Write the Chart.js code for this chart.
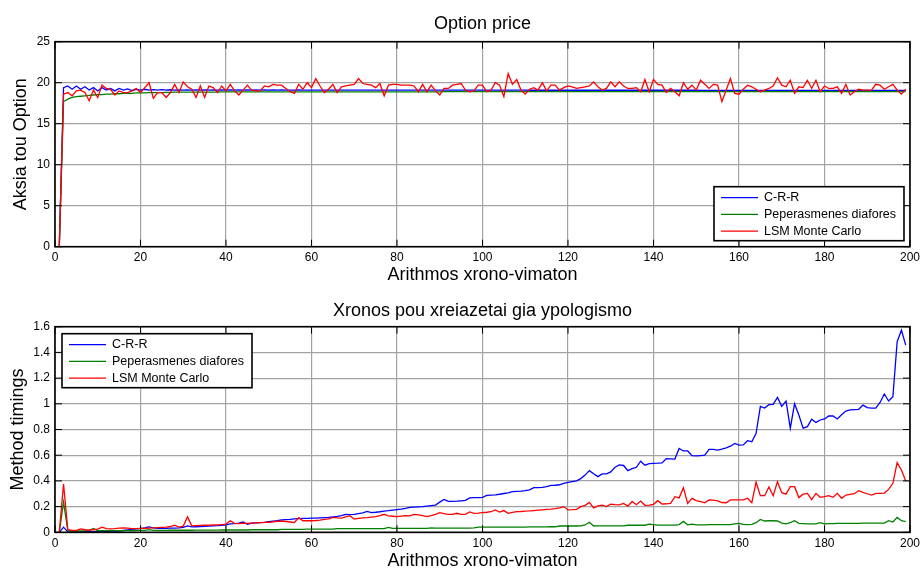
<!DOCTYPE html>
<html lang="en">
  <head>
    <meta charset="UTF-8" />
    <title>Option price</title>
    <script src="https://cdn.jsdelivr.net/npm/chart.js@4"></script>
    <style>
      body { margin: 0; background: #fff; overflow: hidden; }
      .plot { position: absolute; left: 0; width: 924px; height: 285px; }
    </style>
  </head>

  <body>
    <div class="plot" style="top: 0"><canvas id="priceChart" width="924" height="285"></canvas></div>
    <div class="plot" style="top: 285px"><canvas id="timeChart" width="924" height="285"></canvas></div>

    <script>
      // option value per number of time steps (1..199)
      const crrPrice = [
        0, 19.4, 19.6, 19.2, 19.6, 19.2, 19.5, 19.1, 19.4, 19.0,
        19.4, 19.1, 19.3, 19.0, 19.3, 19.1, 19.25, 19.05, 19.2, 19.1,
        19.2, 19.1, 19.15, 19.1, 19.15, 19.1, 19.14, 19.1, 19.13, 19.1,
        19.12, 19.1, 19.12, 19.1, 19.12, 19.1, 19.12, 19.1, 19.12, 19.1,
        19.12, 19.1, 19.11, 19.1, 19.11, 19.1, 19.11, 19.1, 19.11, 19.1,
        19.11, 19.1, 19.11, 19.1, 19.1, 19.1, 19.11, 19.1, 19.1, 19.1,
        19.1, 19.1, 19.1, 19.1, 19.1, 19.1, 19.1, 19.1, 19.1, 19.1,
        19.1, 19.1, 19.1, 19.1, 19.1, 19.1, 19.1, 19.1, 19.1, 19.1,
        19.1, 19.1, 19.1, 19.1, 19.1, 19.1, 19.1, 19.1, 19.1, 19.1,
        19.09, 19.09, 19.09, 19.09, 19.09, 19.09, 19.09, 19.09, 19.09, 19.09,
        19.09, 19.09, 19.09, 19.09, 19.09, 19.09, 19.09, 19.09, 19.09, 19.09,
        19.08, 19.08, 19.08, 19.08, 19.08, 19.08, 19.08, 19.08, 19.08, 19.08,
        19.08, 19.08, 19.08, 19.08, 19.08, 19.08, 19.08, 19.08, 19.08, 19.08,
        19.08, 19.08, 19.08, 19.08, 19.08, 19.08, 19.08, 19.08, 19.08, 19.08,
        19.08, 19.08, 19.08, 19.08, 19.08, 19.08, 19.08, 19.08, 19.08, 19.08,
        19.07, 19.07, 19.07, 19.07, 19.07, 19.07, 19.07, 19.07, 19.07, 19.07,
        19.07, 19.07, 19.07, 19.07, 19.07, 19.07, 19.07, 19.07, 19.07, 19.07,
        19.07, 19.07, 19.07, 19.07, 19.07, 19.07, 19.07, 19.07, 19.07, 19.07,
        19.07, 19.07, 19.07, 19.07, 19.07, 19.07, 19.07, 19.07, 19.07, 19.07,
        19.07, 19.07, 19.07, 19.07, 19.07, 19.07, 19.07, 19.07, 19.07
      ];
      const fdPrice = [
        0, 17.7, 18.0, 18.2, 18.3, 18.35, 18.4, 18.45, 18.5, 18.55,
        18.55, 18.6, 18.6, 18.65, 18.65, 18.7, 18.7, 18.7, 18.75, 18.75,
        18.75, 18.78, 18.8, 18.8, 18.8, 18.82, 18.82, 18.84, 18.84, 18.85,
        18.85, 18.85, 18.85, 18.86, 18.86, 18.86, 18.86, 18.86, 18.87, 18.87,
        18.87, 18.87, 18.87, 18.87, 18.87, 18.88, 18.88, 18.88, 18.88, 18.88,
        18.88, 18.88, 18.88, 18.88, 18.88, 18.88, 18.88, 18.88, 18.88, 18.88,
        18.89, 18.89, 18.89, 18.89, 18.89, 18.89, 18.89, 18.89, 18.89, 18.89,
        18.89, 18.89, 18.89, 18.89, 18.89, 18.89, 18.89, 18.89, 18.89, 18.89,
        18.89, 18.89, 18.89, 18.89, 18.89, 18.89, 18.89, 18.89, 18.89, 18.89,
        18.9, 18.9, 18.9, 18.9, 18.9, 18.9, 18.9, 18.9, 18.9, 18.9,
        18.9, 18.9, 18.9, 18.9, 18.9, 18.9, 18.9, 18.9, 18.9, 18.9,
        18.9, 18.9, 18.9, 18.9, 18.9, 18.9, 18.9, 18.9, 18.9, 18.9,
        18.9, 18.9, 18.9, 18.9, 18.9, 18.9, 18.9, 18.9, 18.9, 18.9,
        18.9, 18.9, 18.9, 18.9, 18.9, 18.9, 18.9, 18.9, 18.9, 18.9,
        18.9, 18.9, 18.9, 18.9, 18.9, 18.9, 18.9, 18.9, 18.9, 18.9,
        18.9, 18.9, 18.9, 18.9, 18.9, 18.9, 18.9, 18.9, 18.9, 18.9,
        18.9, 18.9, 18.9, 18.9, 18.9, 18.9, 18.9, 18.9, 18.9, 18.9,
        18.9, 18.9, 18.9, 18.9, 18.9, 18.9, 18.9, 18.9, 18.9, 18.9,
        18.9, 18.9, 18.9, 18.9, 18.9, 18.9, 18.9, 18.9, 18.9, 18.9,
        18.9, 18.9, 18.9, 18.9, 18.9, 18.9, 18.9, 18.9, 18.9
      ];
      const lsmPrice = [
        0, 18.6, 18.8, 18.4, 19.0, 19.1, 18.8, 17.8, 19.1, 18.2,
        19.7, 19.3, 19.2, 18.5, 19.0, 18.8, 18.8, 19.0, 19.3, 18.8,
        19.4, 20.0, 18.1, 18.8, 18.8, 18.2, 18.8, 19.8, 18.8, 20.1,
        19.5, 19.2, 18.2, 19.6, 18.2, 19.6, 19.4, 18.8, 19.6, 19.0,
        19.8, 19.0, 18.5, 19.1, 19.7, 19.1, 19.0, 19.0, 19.6, 19.5,
        19.8, 19.7, 19.7, 19.3, 18.9, 18.7, 19.8, 19.2, 20.0, 19.4,
        20.5, 19.6, 18.8, 19.2, 19.8, 18.8, 19.5, 19.6, 19.7, 19.8,
        20.5, 19.9, 19.8, 19.7, 19.4, 19.9, 18.4, 19.7, 19.8, 19.8,
        19.7, 19.7, 19.7, 19.6, 18.9, 19.8, 18.9, 19.7, 19.0, 18.5,
        19.3, 19.3, 19.7, 19.8, 19.9, 19.1, 18.9, 19.0, 19.7, 19.7,
        18.9, 19.1, 20.0, 19.7, 18.3, 21.1, 19.8, 20.4, 19.1, 18.6,
        19.2, 19.4, 19.1, 20.0, 19.0, 19.7, 19.7, 19.1, 19.4, 19.6,
        19.5, 19.3, 19.4, 19.5, 19.6, 20.1, 19.5, 19.1, 19.3, 20.1,
        19.5, 20.1, 19.6, 19.3, 19.3, 19.4, 18.9, 20.4, 18.9, 20.4,
        19.8, 19.7, 18.8, 19.3, 18.9, 18.4, 20.0, 19.2, 19.7, 19.1,
        20.3, 19.8, 19.3, 19.8, 19.7, 17.7, 19.1, 20.5, 18.7, 18.6,
        19.2, 19.7, 19.5, 19.2, 18.9, 19.1, 19.3, 19.6, 20.6, 19.7,
        19.5, 20.3, 18.7, 19.5, 19.4, 20.3, 19.3, 20.3, 18.9, 19.6,
        19.3, 19.3, 19.5, 18.7, 19.8, 18.5, 18.9, 19.2, 19.1, 19.1,
        19.1, 19.8, 19.7, 19.2, 19.5, 19.8, 19.1, 18.6, 19.2
      ];

      // computation time (s) per number of time steps
      const crrTime = [
        0, 0.04, 0.003, 0.003, 0.004, 0.004, 0.005, 0.005, 0.006, 0.006,
        0.007, 0.008, 0.008, 0.009, 0.01, 0.014, 0.018, 0.022, 0.026, 0.03,
        0.034, 0.042, 0.034, 0.031, 0.03, 0.031, 0.032, 0.032, 0.034, 0.038,
        0.05, 0.042, 0.043, 0.044, 0.046, 0.048, 0.05, 0.052, 0.055, 0.058,
        0.066, 0.068, 0.072, 0.08, 0.062, 0.072, 0.074, 0.076, 0.078, 0.082,
        0.086, 0.09, 0.096, 0.098, 0.1, 0.104, 0.106, 0.108, 0.108, 0.11,
        0.11, 0.112, 0.114, 0.116, 0.12, 0.124, 0.13, 0.14, 0.138, 0.14,
        0.146, 0.152, 0.162, 0.153, 0.156, 0.16, 0.165, 0.168, 0.172, 0.176,
        0.18, 0.186, 0.194, 0.196, 0.198, 0.2, 0.204, 0.208, 0.212, 0.235,
        0.256, 0.24, 0.24, 0.242, 0.245, 0.248, 0.268, 0.27, 0.27, 0.272,
        0.288, 0.29, 0.292, 0.296, 0.302, 0.306, 0.316, 0.318, 0.32, 0.324,
        0.33, 0.347, 0.348, 0.35, 0.356, 0.365, 0.366, 0.37, 0.38, 0.389,
        0.395, 0.4, 0.418, 0.445, 0.48, 0.455, 0.433, 0.454, 0.455, 0.47,
        0.506, 0.524, 0.52, 0.48, 0.495, 0.506, 0.553, 0.522, 0.535, 0.537,
        0.538, 0.54, 0.573, 0.572, 0.57, 0.653, 0.633, 0.633, 0.597, 0.594,
        0.597, 0.6, 0.645, 0.645, 0.64, 0.648, 0.657, 0.67, 0.692, 0.679,
        0.68, 0.713, 0.705, 0.77, 0.98, 0.967, 0.993, 0.995, 1.05, 0.98,
        1.022, 0.81, 1.0, 0.913, 0.81, 0.822, 0.88, 0.855, 0.874, 0.882,
        0.905, 0.905, 0.882, 0.915, 0.944, 0.952, 0.955, 0.957, 0.99, 0.97,
        0.967, 0.967, 1.01, 1.076, 1.022, 1.055, 1.483, 1.574, 1.457
      ];
      const fdTime = [
        0, 0.235, 0.012, 0.01, 0.01, 0.01, 0.012, 0.015, 0.03, 0.012,
        0.012, 0.012, 0.012, 0.013, 0.013, 0.013, 0.013, 0.014, 0.014, 0.015,
        0.015, 0.02, 0.015, 0.015, 0.015, 0.015, 0.016, 0.016, 0.016, 0.016,
        0.016, 0.016, 0.017, 0.017, 0.017, 0.017, 0.017, 0.017, 0.018, 0.018,
        0.018, 0.018, 0.018, 0.018, 0.018, 0.02, 0.02, 0.02, 0.02, 0.02,
        0.02, 0.02, 0.022, 0.022, 0.022, 0.023, 0.023, 0.023, 0.024, 0.024,
        0.024, 0.024, 0.025, 0.025, 0.025, 0.028, 0.028, 0.028, 0.028, 0.028,
        0.028, 0.028, 0.028, 0.028, 0.028, 0.028, 0.028, 0.038, 0.03, 0.03,
        0.03, 0.03, 0.03, 0.03, 0.03, 0.03, 0.03, 0.035, 0.033, 0.033,
        0.033, 0.033, 0.033, 0.033, 0.033, 0.033, 0.033, 0.034, 0.04, 0.04,
        0.04, 0.04, 0.04, 0.04, 0.041, 0.041, 0.041, 0.041, 0.041, 0.041,
        0.042, 0.042, 0.042, 0.042, 0.042, 0.043, 0.043, 0.049, 0.049, 0.049,
        0.049, 0.049, 0.05, 0.057, 0.078, 0.049, 0.05, 0.05, 0.05, 0.05,
        0.05, 0.05, 0.05, 0.055, 0.055, 0.055, 0.055, 0.055, 0.064, 0.06,
        0.056, 0.056, 0.056, 0.056, 0.056, 0.06, 0.085, 0.058, 0.064, 0.058,
        0.058, 0.058, 0.059, 0.059, 0.059, 0.06, 0.06, 0.06, 0.065, 0.07,
        0.062, 0.06, 0.062, 0.075, 0.1, 0.088, 0.09, 0.09, 0.088, 0.072,
        0.065, 0.075, 0.09, 0.07, 0.068, 0.066, 0.065, 0.066, 0.075, 0.066,
        0.068, 0.068, 0.069, 0.069, 0.07, 0.07, 0.07, 0.07, 0.071, 0.071,
        0.071, 0.072, 0.072, 0.072, 0.09, 0.08, 0.116, 0.09, 0.083
      ];
      const lsmTime = [
        0, 0.375, 0.02, 0.014, 0.015, 0.026, 0.02, 0.018, 0.02, 0.025,
        0.04, 0.028, 0.027, 0.029, 0.032, 0.035, 0.033, 0.028, 0.028, 0.03,
        0.03, 0.033, 0.034, 0.036, 0.038, 0.04, 0.045, 0.055, 0.04, 0.048,
        0.12, 0.05, 0.052, 0.054, 0.055, 0.056, 0.057, 0.058, 0.06, 0.064,
        0.09, 0.07, 0.068, 0.072, 0.07, 0.072, 0.074, 0.076, 0.078, 0.078,
        0.082, 0.085, 0.088, 0.084, 0.08, 0.076, 0.114, 0.09, 0.09, 0.09,
        0.092, 0.095, 0.1, 0.104, 0.116, 0.112, 0.11, 0.12, 0.127, 0.103,
        0.108, 0.112, 0.114, 0.118, 0.122, 0.13, 0.14, 0.127, 0.125, 0.122,
        0.126, 0.13, 0.128, 0.14, 0.135, 0.13, 0.122, 0.13, 0.14, 0.153,
        0.145, 0.14, 0.14, 0.148, 0.14, 0.14, 0.158, 0.148, 0.15, 0.153,
        0.156, 0.16, 0.174, 0.158, 0.169, 0.148, 0.155, 0.161, 0.162, 0.164,
        0.166, 0.169, 0.172, 0.175, 0.178, 0.181, 0.185, 0.19, 0.2, 0.174,
        0.176, 0.179, 0.2, 0.21, 0.233, 0.19, 0.205, 0.212, 0.2, 0.218,
        0.215, 0.213, 0.225, 0.204, 0.24, 0.215, 0.243, 0.21, 0.212, 0.218,
        0.246, 0.22, 0.222, 0.225, 0.277, 0.268, 0.346, 0.225, 0.264, 0.246,
        0.238, 0.23, 0.252, 0.25, 0.244, 0.232, 0.23, 0.252, 0.252, 0.252,
        0.252, 0.265, 0.23, 0.39, 0.285, 0.285, 0.352, 0.285, 0.394, 0.308,
        0.297, 0.355, 0.355, 0.27, 0.297, 0.303, 0.255, 0.303, 0.272, 0.277,
        0.285, 0.272, 0.303, 0.265, 0.29, 0.295, 0.3, 0.324, 0.31, 0.3,
        0.29, 0.303, 0.303, 0.305, 0.334, 0.381, 0.542, 0.485, 0.4
      ];

      const seriesNames = ["C-R-R", "Peperasmenes diafores", "LSM Monte Carlo"];
      const seriesColors = ["#0000ff", "#008000", "#ff0000"];
      const xTicks = [0, 20, 40, 60, 80, 100, 120, 140, 160, 180, 200];

      const steps = crrPrice.map((_, i) => i + 1);
      const FONT = '"Liberation Sans", Arial, Helvetica, sans-serif';
      Chart.defaults.font.family = FONT;
      Chart.defaults.color = "#000";
      const gridColor = "#a3a3a3";

      // black frame + inward tick marks, matlab style
      const axesBox = {
        id: "axesBox",
        afterDraw(chart) {
          const { ctx, chartArea: a, scales } = chart;
          const tl = 7;
          ctx.save();
          ctx.strokeStyle = "#000";
          ctx.lineWidth = 1;
          ctx.beginPath();
          scales.x.ticks.forEach((t) => {
            const p = scales.x.getPixelForValue(t.value);
            ctx.moveTo(p, a.bottom); ctx.lineTo(p, a.bottom - tl);
            ctx.moveTo(p, a.top); ctx.lineTo(p, a.top + tl);
          });
          scales.y.ticks.forEach((t) => {
            const p = scales.y.getPixelForValue(t.value);
            ctx.moveTo(a.left, p); ctx.lineTo(a.left + tl, p);
            ctx.moveTo(a.right, p); ctx.lineTo(a.right - tl, p);
          });
          ctx.stroke();
          ctx.lineWidth = 1.6;
          ctx.strokeRect(a.left, a.top, a.right - a.left, a.bottom - a.top);
          ctx.restore();
        },
      };

      const boxLegend = {
        id: "boxLegend",
        afterDraw(chart, args, opts) {
          const { ctx, chartArea: a } = chart;
          const w = 190, h = 54;
          const left = opts.corner === "topLeft" ? a.left + 7 : a.right - 6 - w;
          const top = opts.corner === "topLeft" ? a.top + 7 : a.bottom - 6 - h;
          ctx.save();
          ctx.fillStyle = "#fff";
          ctx.fillRect(left, top, w, h);
          ctx.strokeStyle = "#000";
          ctx.lineWidth = 1.6;
          ctx.strokeRect(left, top, w, h);
          ctx.font = "12.5px " + FONT;
          ctx.textBaseline = "middle";
          chart.data.datasets.forEach((ds, i) => {
            const y = top + 11 + i * 16.7;
            ctx.strokeStyle = ds.borderColor;
            ctx.lineWidth = 1.3;
            ctx.beginPath();
            ctx.moveTo(left + 7, y);
            ctx.lineTo(left + 44, y);
            ctx.stroke();
            ctx.fillStyle = "#000";
            ctx.fillText(ds.label, left + 50, y);
          });
          ctx.restore();
        },
      };

      function makeDatasets(lists) {
        return lists.map((vals, i) => ({
          label: seriesNames[i],
          data: vals.map((v, j) => ({ x: steps[j], y: v })),
          borderColor: seriesColors[i],
          borderWidth: 1.3,
          pointRadius: 0,
          tension: 0,
          order: 3 - i,
        }));
      }

      function makeConfig(opt) {
        return {
          type: "line",
          data: { datasets: makeDatasets(opt.lists) },
          plugins: [axesBox, boxLegend],
          options: {
            responsive: false,
            animation: false,
            layout: { padding: { left: 0, right: 10, top: 0, bottom: 0 } },
            scales: {
              x: {
                type: "linear",
                min: 0,
                max: 200,
                afterBuildTicks: (s) => { s.ticks = xTicks.map((v) => ({ value: v })); },
                ticks: { padding: 4, maxRotation: 0, autoSkip: false, font: { size: 12 } },
                grid: { color: gridColor, lineWidth: 1.2, drawTicks: false },
                border: { display: false },
                title: {
                  display: true,
                  text: "Arithmos xrono-vimaton",
                  font: { size: 18, lineHeight: 1 },
                  padding: { top: 0, bottom: opt.xTitlePad },
                },
                afterFit: (s) => { s.height = opt.xHeight; },
              },
              y: {
                min: 0,
                max: opt.yMax,
                afterBuildTicks: (s) => { s.ticks = opt.yTicks.map((v) => ({ value: v })); },
                ticks: { padding: 5, font: { size: 12 }, callback: (v) => String(+v.toFixed(1)) },
                grid: { color: gridColor, lineWidth: 1.2, drawTicks: false },
                border: { display: false },
                title: {
                  display: true,
                  text: opt.yTitle,
                  font: { size: 18, lineHeight: 1 },
                  padding: { top: opt.yTitlePad, bottom: 0 },
                },
                afterFit: (s) => { s.width = 55; },
              },
            },
            plugins: {
              legend: { display: false },
              tooltip: { enabled: false },
              title: {
                display: true,
                text: opt.title,
                fullSize: false,
                font: { size: 18, weight: "normal", lineHeight: 1.2 },
                padding: opt.titlePad,
              },
              boxLegend: { corner: opt.legendCorner },
            },
          },
        };
      }

      new Chart(document.getElementById("priceChart"), makeConfig({
        lists: [crrPrice, fdPrice, lsmPrice],
        title: "Option price",
        titlePad: { top: 13, bottom: 7.1 },
        yTitle: "Aksia tou Option",
        yTitlePad: 12,
        yMax: 25,
        yTicks: [0, 5, 10, 15, 20, 25],
        xHeight: 38.3,
        xTitlePad: 1,
        legendCorner: "bottomRight",
      }));

      new Chart(document.getElementById("timeChart"), makeConfig({
        lists: [crrTime, fdTime, lsmTime],
        title: "Xronos pou xreiazetai gia ypologismo",
        titlePad: { top: 15, bottom: 5.1 },
        yTitle: "Method timings",
        yTitlePad: 9,
        yMax: 1.6,
        yTicks: [0, 0.2, 0.4, 0.6, 0.8, 1, 1.2, 1.4, 1.6],
        xHeight: 37.7,
        xTitlePad: 0,
        legendCorner: "topLeft",
      }));
    </script>
  </body>
</html>
